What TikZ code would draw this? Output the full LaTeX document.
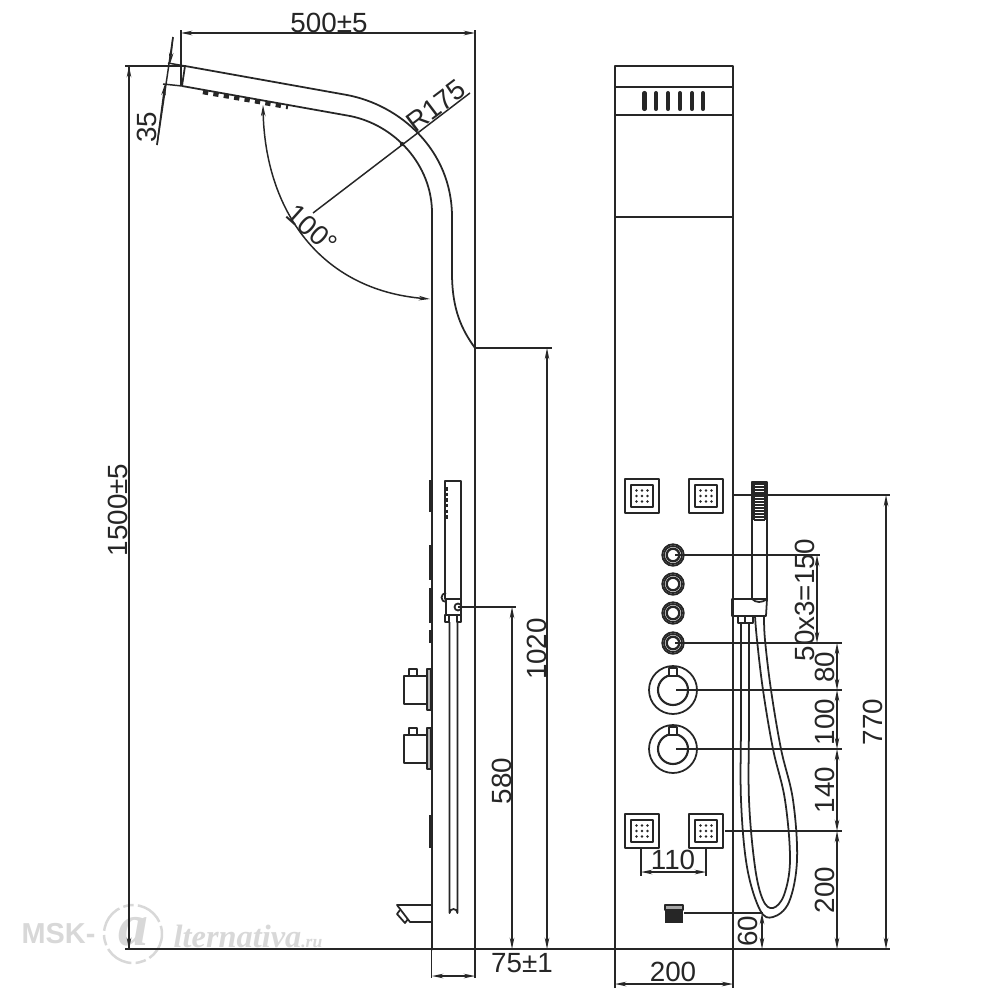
\documentclass[tikz,border=0pt]{standalone}
\usepackage{fontspec}
\setmainfont{Liberation Sans}
\newfontfamily\wmserif{Liberation Serif}
\usetikzlibrary{arrows.meta}
\definecolor{ink}{HTML}{262626}
\definecolor{wm}{HTML}{D8D8D8}
\tikzset{
  obj/.style={draw=ink,line width=0.5pt,line join=round},
  thin line/.style={draw=ink,line width=0.42pt},
  dimline/.style={draw=ink,line width=0.42pt,{Stealth[length=3.2pt,width=1.3pt]}-{Stealth[length=3.2pt,width=1.3pt]}},
  arrowone/.style={draw=ink,line width=0.42pt,-{Stealth[length=3.2pt,width=1.3pt]}},
  dimtext/.style={font=\fontsize{7.9}{8}\selectfont,text=ink,inner sep=0pt},
  heavy/.style={draw=ink,line width=0.8pt},
}
\newcommand{\jetbox}[2]{%
  \draw[obj] (#1-17,#2-17) rectangle (#1+17,#2+17);
  \draw[obj,line width=0.65pt] (#1-11,#2-11) rectangle (#1+11,#2+11);
  \foreach \dx in {-5.5,0,5.5} \foreach \dy in {-5.5,0,5.5}
    \fill[ink] (#1+\dx,#2+\dy) circle (1.4);
}
\newcommand{\jetring}[2]{%
  \draw[obj] (#1,#2) circle (10.8);
  \draw[obj] (#1,#2) circle (9);
  \draw[obj,line width=0.65pt] (#1,#2) circle (6.3);
}
\newcommand{\knobring}[2]{%
  \draw[obj] (#1,#2) circle (24);
  \draw[obj,line width=0.6pt] (#1,#2) circle (15);
  \draw[obj,fill=white] (#1-4,#2-22) rectangle (#1+4,#2-14);
}
\newcommand{\sideknob}[1]{%
  \draw[obj] (404,#1+7) rectangle (427,#1+35);
  \draw[obj] (409,#1+7) -- (409,#1) -- (417,#1) -- (417,#1+7);
  \draw[obj,fill=black!30] (427,#1) rectangle (431,#1+41);
}
\begin{document}
\begin{tikzpicture}[x=0.01cm,y=-0.01cm]
\useasboundingbox (0,0) rectangle (1000,1000);
\fill[white] (0,0) rectangle (1000,1000);

% watermark
\node[inner sep=0pt,anchor=west,text=wm,font=\fontsize{8.2}{9}\bfseries\selectfont] (wmA) at (21,934) {MSK-};
\draw[wm,line width=0.7pt,dash pattern=on 8pt off 1.2pt on 3pt off 1.2pt] (133,934) circle (29);
\node[inner sep=0pt,text=wm,font=\wmserif\fontsize{17}{18}\bfseries\itshape\selectfont] (wmB) at (133,932) {a};
\node[inner sep=0pt,anchor=west,text=wm,font=\wmserif\fontsize{9.2}{10}\bfseries\itshape\selectfont] (wmC) at (173,936) {lternativa\fontsize{5}{6}\selectfont.ru};

% side view: arm and column
\draw[obj] (181,30) -- (181,86);
\draw[obj] (185,66) -- (347,95) .. controls (400,105) and (452,150) .. (452,217)
  -- (452,273) .. controls (452,310) and (462,330) .. (475,348);
\draw[obj] (182,86) -- (350,116) .. controls (395,125) and (432,165) .. (432,213) -- (432,950);
\draw[obj] (185,66) -- (182,86);
\draw[heavy,line width=1.3pt,dash pattern=on 1.5pt off 1.5pt] (203,92) -- (288,107);

% side view: wall-side dashes
\foreach \a/\b in {480/512,545/580,588/623,630/643,815/848}
  \draw[heavy] (430,\a) -- (430,\b);

% side view: knobs and spout
\sideknob{669}
\sideknob{728}
\draw[obj] (432,905) -- (397,905) -- (410,922) -- (432,922);
\draw[obj] (400,910) -- (397,914) -- (405,923) -- (408,919);

% side view: hand shower
\draw[obj] (445,481) rectangle (461,599);
\draw[heavy,line width=1.2pt,dash pattern=on 1pt off 0.6pt] (446,487) -- (446,520);
\draw[obj] (446,599) rectangle (461,615);
\draw[obj] (446,602) arc[start angle=90,end angle=270,radius=4.5];
\draw[obj] (458,607) circle (3.5);
\draw[obj] (445,615) rectangle (449,622);
\draw[obj] (457,615) rectangle (461,622);
\draw[obj] (449.5,622) -- (449.5,913) arc[start angle=180,end angle=360,radius=4] -- (457.5,622);

% right view: panel
\draw[obj] (615,988) -- (615,66) -- (733,66) -- (733,988);
\draw[obj] (615,87) -- (733,87);
\draw[obj] (615,115) -- (733,115);
\draw[obj] (615,217) -- (733,217);
\foreach \x in {644.5,656,668,680,692,703}
  \draw[ink,line width=1.15pt,line cap=round] (\x,93) -- (\x,109);

% right view: fittings
\jetbox{642}{496}
\jetbox{706}{496}
\jetbox{642}{831}
\jetbox{706}{831}
\foreach \y in {555,584,613,643} {\jetring{673}{\y}}
\knobring{673}{690}
\knobring{673}{749}

% right view: bottom outlet
\fill[ink] (665,909) rectangle (683,923);
\draw[obj,fill=black!35] (665,905) rectangle (683,910);

% right view: hand shower
\draw[obj] (752,482) rectangle (767,599);
\foreach \y in {484,487,...,520} \draw[ink,line width=0.5pt] (754,\y) -- (765,\y);
\draw[obj] (754,483) -- (754,520) (765,483) -- (765,520);
\draw[obj] (732,599) -- (767,599) -- (766,616) -- (732,616) -- cycle;
\draw[obj] (752,599) .. controls (756,603) and (762,603) .. (767,599);
\draw[obj] (738,616) -- (738,623) -- (753,623) -- (753,616);
\draw[obj] (745,616) -- (745,623);

% hose
\draw[obj] plot[smooth,tension=0.6] coordinates {(741,623) (741,720) (741,800) (747,867) (760,910) (773,917) (789,902) (797,860) (793,800) (781,749) (771,690) (765,640) (764,616)};
\draw[obj] plot[smooth,tension=0.6] coordinates {(749,623) (749,720) (749,800) (755,867) (763,900) (773,908) (784,895) (790,860) (785,800) (773,749) (763,690) (757,640) (755,616)};

% extension lines, left
\draw[thin line] (125,66) -- (185,66);
\draw[thin line] (125,949) -- (890,949);
\draw[heavy] (455,949) -- (475,949);
\draw[heavy] (710,949) -- (765,949);
\draw[thin line] (475,30) -- (475,978);
\draw[thin line] (431.5,950) -- (431.5,978);
\draw[thin line] (475,348) -- (552,348);
\draw[thin line] (458,607) -- (516,607);
\draw[thin line] (168,63) -- (185,66);
\draw[thin line] (163,84) -- (182,86);
\draw[thin line] (173,37) -- (157,145);

% dimensions, left
\draw[dimline] (181,33) -- (475,33);
\node[dimtext] (t500) at (329,23) {500±5};
\draw[arrowone] (129,949) -- (129,66);
\draw[arrowone] (129,66) -- (129,949);
\node[dimtext,rotate=90] (t1500) at (118,510) {1500±5};
\draw[arrowone] (173,37) -- (170,64);
\draw[arrowone] (157,145) -- (165,84);
\node[dimtext,rotate=90] (t35) at (147,127) {35};
\draw[dimline] (263,105) .. controls (265,210) and (320,290) .. (430,299);
\node[dimtext,rotate=-42] (t100) at (312,229) {100°};
\draw[thin line] (313,213) -- (470,93);
\fill[ink] (402,144) circle (2.2);
\node[dimtext,rotate=37] (tR) at (436,106) {R175};
\draw[dimline] (547,348) -- (547,949);
\node[dimtext,rotate=90] (t1020) at (537,649) {1020};
\draw[dimline] (512,607) -- (512,949);
\node[dimtext,rotate=90] (t580) at (502,781) {580};
\draw[dimline] (432,976) -- (475,976);
\node[dimtext] (t75) at (522,963) {75±1};

% dimensions, right
\draw[thin line] (734,495) -- (890,495);
\draw[thin line] (675,555) -- (820,555);
\draw[thin line] (675,643) -- (842,643);
\draw[thin line] (676,690) -- (842,690);
\draw[thin line] (676,749) -- (842,749);
\draw[thin line] (725,831) -- (842,831);
\draw[thin line] (684,913) -- (763,913);
\draw[thin line] (641,849) -- (641,876);
\draw[thin line] (706,849) -- (706,876);
\draw[dimline] (817,555) -- (817,643);
\node[dimtext,rotate=90] (t150) at (805,600) {50x3=150};
\draw[dimline] (837,643) -- (837,690);
\node[dimtext,rotate=90] (t80) at (825,667) {80};
\draw[dimline] (837,690) -- (837,749);
\node[dimtext,rotate=90] (t100b) at (825,722) {100};
\draw[dimline] (837,749) -- (837,831);
\node[dimtext,rotate=90] (t140) at (825,790) {140};
\draw[dimline] (837,831) -- (837,949);
\node[dimtext,rotate=90] (t200b) at (825,890) {200};
\draw[dimline] (886,495) -- (886,949);
\node[dimtext,rotate=90] (t770) at (873,722) {770};
\draw[dimline] (762,913) -- (762,949);
\node[dimtext,rotate=90] (t60) at (748,931) {60};
\draw[dimline] (641,872) -- (706,872);
\node[dimtext] (t110) at (673,860) {110};
\draw[dimline] (615,984) -- (733,984);
\node[dimtext] (t200) at (673,972) {200};
\end{tikzpicture}
\end{document}
